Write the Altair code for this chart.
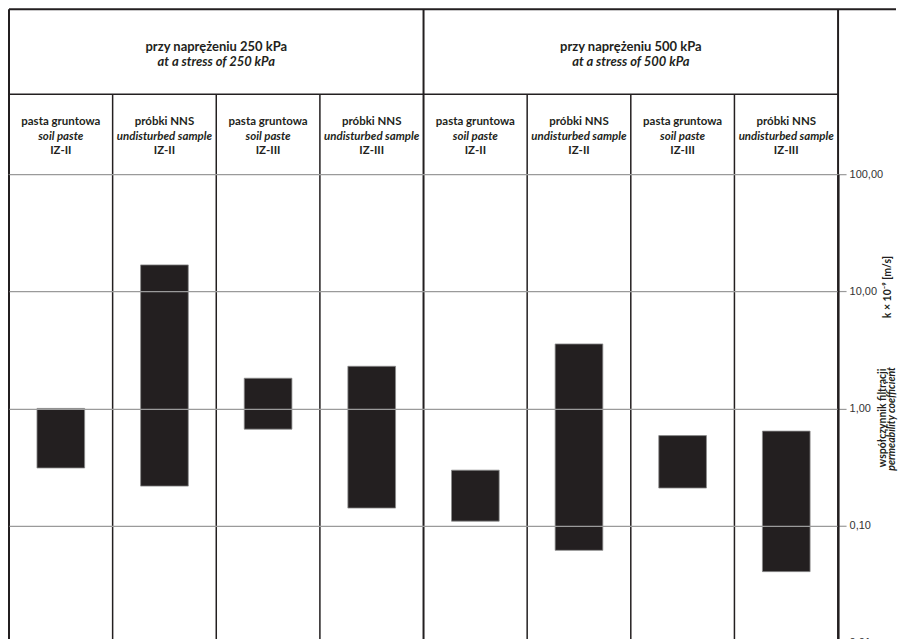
import altair as alt
import pandas as pd

# ---------------- data ----------------
group_pl = ["przy naprężeniu 250 kPa", "przy naprężeniu 500 kPa"]
group_en = ["at a stress of 250 kPa", "at a stress of 500 kPa"]
group_center = [2, 6]
sample_pl = ["pasta gruntowa", "próbki NNS", "pasta gruntowa", "próbki NNS",
             "pasta gruntowa", "próbki NNS", "pasta gruntowa", "próbki NNS"]
sample_en = ["soil paste", "undisturbed sample", "soil paste", "undisturbed sample",
             "soil paste", "undisturbed sample", "soil paste", "undisturbed sample"]
zone = ["IZ-II", "IZ-II", "IZ-III", "IZ-III", "IZ-II", "IZ-II", "IZ-III", "IZ-III"]
k_min = [0.31, 0.217, 0.665, 0.141, 0.109, 0.0614, 0.209, 0.0404]
k_max = [1.0, 16.8, 1.81, 2.29, 0.297, 3.55, 0.586, 0.64]
tick_values = [0.01, 0.1, 1, 10, 100]
group_bounds = [0, 4, 8]
column_bounds = [1, 2, 3, 5, 6, 7]

# ---------------- layout / style ----------------
W, HH, H = 830, 165, 469
FONT = "Lato, Roboto, sans-serif"
WEIGHT = "bold"
INK = "#231f20"
GRID = "#9a9a9a"

cols = [f"c{i}" for i in range(len(k_min))]
bars = pd.DataFrame({"col": cols, "lo": k_min, "hi": k_max,
                     "l1": sample_pl, "l2": sample_en, "l3": zone})
gb = pd.DataFrame({"b": group_bounds})
cb = pd.DataFrame({"b": column_bounds})
grp = pd.DataFrame({"g": group_center, "pl": group_pl, "en": group_en})
one = pd.DataFrame({"k": [0]})

band = alt.Scale(paddingInner=0.54, paddingOuter=0.27)
xband = alt.X("col:N", sort=cols, axis=None, scale=band)
qscale = alt.Scale(domain=[0, 8], nice=False, zero=False)

# ---------------- header ----------------
h_grp_lines = alt.Chart(gb).mark_rule(color=INK, strokeWidth=2).encode(
    x=alt.X("b:Q", axis=None, scale=qscale), y=alt.value(0), y2=alt.value(HH))
h_col_lines = alt.Chart(cb).mark_rule(color=INK, strokeWidth=1.5).encode(
    x=alt.X("b:Q", axis=None, scale=qscale), y=alt.value(85), y2=alt.value(HH))
h_top = alt.Chart(one).mark_rule(color=INK, strokeWidth=2).encode(
    x=alt.value(0), x2=alt.value(888), y=alt.value(0))
h_mid = alt.Chart(one).mark_rule(color=INK, strokeWidth=1.5).encode(
    x=alt.value(0), x2=alt.value(W), y=alt.value(85))

g_txt1 = alt.Chart(grp).mark_text(font=FONT, fontSize=13, fontWeight=WEIGHT,
                                   color=INK, baseline="alphabetic").encode(
    x=alt.X("g:Q", axis=None, scale=qscale), y=alt.value(42), text="pl:N")
g_txt2 = alt.Chart(grp).mark_text(font=FONT, fontSize=13, fontWeight=WEIGHT,
                                   fontStyle="italic", color=INK,
                                   baseline="alphabetic").encode(
    x=alt.X("g:Q", axis=None, scale=qscale), y=alt.value(56.5), text="en:N")

c_txt1 = alt.Chart(bars).mark_text(font=FONT, fontSize=11.5, fontWeight=WEIGHT,
                                    color=INK, baseline="alphabetic").encode(
    x=xband, y=alt.value(116), text="l1:N")
c_txt2 = alt.Chart(bars).mark_text(font=FONT, fontSize=11.5, fontWeight=WEIGHT,
                                    fontStyle="italic", color=INK,
                                    baseline="alphabetic").encode(
    x=xband, y=alt.value(130.5), text="l2:N")
c_txt3 = alt.Chart(bars).mark_text(font=FONT, fontSize=11.5, fontWeight=WEIGHT,
                                    color=INK, baseline="alphabetic").encode(
    x=xband, y=alt.value(145), text="l3:N")

header = alt.layer(
    h_grp_lines, h_col_lines, h_top, h_mid,
    g_txt1, g_txt2, c_txt1, c_txt2, c_txt3
).resolve_scale(x="independent").properties(width=W, height=HH)

# ---------------- main plot ----------------
yaxis = alt.Axis(
    orient="right", values=tick_values, grid=True, gridColor=GRID, gridWidth=1.2,
    tickColor=GRID, tickSize=8, tickWidth=1.2, domain=True, domainColor=INK,
    domainWidth=2, labelFont="Liberation Sans", labelFontSize=11,
    labelColor="#333333", labelPadding=3, title=None, zindex=1,
    labelExpr="replace(format(datum.value, '.2f'), '.', ',')")

bar_layer = alt.Chart(bars).mark_bar(color=INK, stroke="#8c8c8c",
                                      strokeWidth=0.8).encode(
    x=xband,
    y=alt.Y("hi:Q", scale=alt.Scale(type="log", domain=[0.01, 100], nice=False),
            axis=yaxis),
    y2="lo:Q")

m_grp_lines = alt.Chart(gb).mark_rule(color=INK, strokeWidth=2).encode(
    x=alt.X("b:Q", axis=None, scale=qscale), y=alt.value(0), y2=alt.value(H))
m_col_lines = alt.Chart(cb).mark_rule(color=INK, strokeWidth=1.5).encode(
    x=alt.X("b:Q", axis=None, scale=qscale), y=alt.value(0), y2=alt.value(H))

t1 = alt.Chart(one).mark_text(font=FONT, fontSize=10.5, fontWeight=WEIGHT,
                              color=INK, angle=270, align="center",
                              baseline="middle").encode(
    x=alt.value(875), y=alt.value(244), text=alt.value("współczynnik filtracji"))
t2 = alt.Chart(one).mark_text(font=FONT, fontSize=10.5, fontWeight=WEIGHT,
                              fontStyle="italic", color=INK, angle=270,
                              align="center", baseline="middle").encode(
    x=alt.value(884), y=alt.value(245), text=alt.value("permeability coefficient"))
t3 = alt.Chart(one).mark_text(font=FONT, fontSize=10.5, fontWeight=WEIGHT,
                              color=INK, angle=270, align="center",
                              baseline="middle").encode(
    x=alt.value(880), y=alt.value(113), text=alt.value("k × 10⁻⁹ [m/s]"))

main = alt.layer(
    m_grp_lines, m_col_lines, bar_layer, t1, t2, t3
).resolve_scale(x="independent").properties(width=W, height=H)

chart = alt.vconcat(header, main, spacing=0, bounds="flush").properties(
    padding=0
).configure_view(stroke=None)

chart.save("out.html", embed_options={"renderer": "svg", "actions": False})
